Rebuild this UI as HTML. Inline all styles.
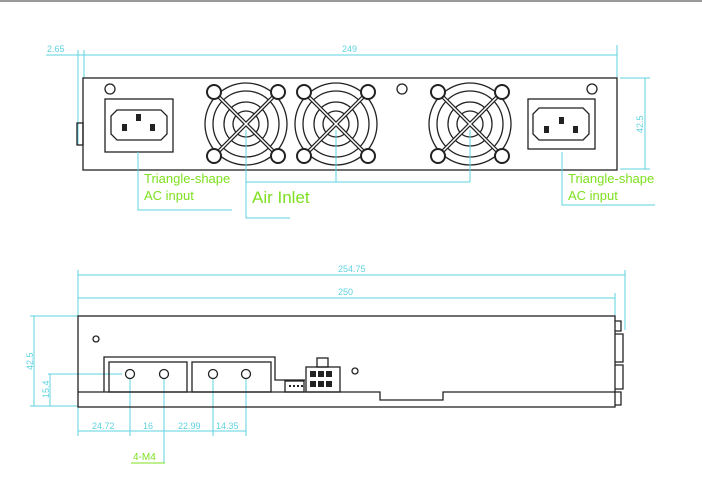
<!DOCTYPE html>
<html><head><style>
body{margin:0;background:#fff}
svg{display:block}
.c{stroke:#5fd3e0;stroke-width:1;fill:none}
.ct{fill:#5fd3e0;font:9px "Liberation Sans",sans-serif}
.k{stroke:#222;fill:none;stroke-width:1.3}
.g{stroke:#5fd3e0;fill:none;stroke-width:1}
.gt{fill:#7ee020;font-family:"Liberation Sans",sans-serif}
</style></head><body>
<svg width="702" height="483" viewBox="0 0 702 483">
<defs>
<g id="fan">
<circle class="k" cx="0" cy="0" r="41"/>
<circle class="k" cx="0" cy="0" r="33"/>
<circle class="k" cx="0" cy="0" r="22"/>
<circle class="k" cx="0" cy="0" r="13"/>
<path d="M-32 -32 L32 32 M32 -32 L-32 32" stroke="#222" stroke-width="4"/>
<path d="M-32 -32 L32 32 M32 -32 L-32 32" stroke="#fff" stroke-width="1.5"/>
<circle cx="-32" cy="-32" r="7" fill="#fff" stroke="#222" stroke-width="2"/><circle cx="32" cy="-32" r="7" fill="#fff" stroke="#222" stroke-width="2"/>
<circle cx="-32" cy="32" r="7" fill="#fff" stroke="#222" stroke-width="2"/><circle cx="32" cy="32" r="7" fill="#fff" stroke="#222" stroke-width="2"/>
</g>
</defs>
<line x1="0" y1="1" x2="702" y2="1" stroke="#999" stroke-width="2"/>
<!-- top dims -->
<line class="c" x1="46" y1="55" x2="617" y2="55"/>
<line class="c" x1="78" y1="50" x2="78" y2="145"/>
<line class="c" x1="84" y1="50" x2="84" y2="78"/>
<line class="c" x1="617" y1="45" x2="617" y2="78"/>
<text class="ct" x="47" y="52">2.65</text>
<text class="ct" x="342" y="52">249</text>
<line class="c" x1="620" y1="78" x2="650" y2="78"/>
<line class="c" x1="620" y1="169" x2="650" y2="169"/>
<line class="c" x1="645" y1="78" x2="645" y2="169"/>
<text class="ct" transform="translate(643,133) rotate(-90)">42.5</text>
<!-- top box -->
<rect class="k" x="83" y="78" width="534" height="92" stroke-width="2"/>
<rect class="k" x="77" y="123" width="6" height="22"/>
<rect class="k" x="105" y="99" width="68" height="53"/>
<path class="k" d="M117 110 h44 l6 6 v18 l-6 6 h-44 l-6 -6 v-18z"/>
<rect x="136" y="114" width="5" height="7" fill="#222"/><rect x="122" y="124" width="5" height="7" fill="#222"/><rect x="150" y="124" width="5" height="7" fill="#222"/>
<rect class="k" x="528" y="99" width="67" height="50"/>
<path class="k" d="M539 108 h44 l6 6 v20 l-6 6 h-44 l-6 -6 v-20z"/>
<rect x="559" y="117" width="5" height="7" fill="#222"/><rect x="544" y="126" width="5" height="7" fill="#222"/><rect x="573" y="126" width="5" height="7" fill="#222"/>
<circle class="k" cx="110" cy="89" r="5"/><circle class="k" cx="402" cy="89" r="5"/><circle class="k" cx="592" cy="89" r="5"/>
<use href="#fan" transform="translate(246,124)"/>
<use href="#fan" transform="translate(336,124)"/>
<use href="#fan" transform="translate(470,124)"/>
<!-- leaders -->
<path class="g" d="M138 152 V210 H232"/>
<path class="g" d="M246 130 V182 H470 M336 130 V182 M470 130 V182"/>
<path class="g" d="M246 182 V218 H290"/>
<path class="g" d="M562 152 V205 H655"/>
<text class="gt" x="144" y="183" font-size="13">Triangle-shape</text>
<text class="gt" x="144" y="200" font-size="13">AC input</text>
<text class="gt" x="252" y="203" font-size="17">Air Inlet</text>
<text class="gt" x="568" y="183" font-size="13">Triangle-shape</text>
<text class="gt" x="568" y="200" font-size="13">AC input</text>
<!-- bottom dims -->
<line class="c" x1="78" y1="275" x2="625" y2="275"/>
<line class="c" x1="78" y1="298" x2="615" y2="298"/>
<line class="c" x1="78" y1="270" x2="78" y2="316"/>
<line class="c" x1="625" y1="270" x2="625" y2="330"/>
<line class="c" x1="615" y1="293" x2="615" y2="316"/>
<text class="ct" x="338" y="272">254.75</text>
<text class="ct" x="338" y="295">250</text>
<line class="c" x1="30" y1="316" x2="78" y2="316"/>
<line class="c" x1="30" y1="406" x2="78" y2="406"/>
<line class="c" x1="34" y1="316" x2="34" y2="406"/>
<text class="ct" transform="translate(33,370) rotate(-90)">42.5</text>
<line class="c" x1="48" y1="374" x2="122" y2="374"/>
<line class="c" x1="50" y1="374" x2="50" y2="406"/>
<text class="ct" transform="translate(49,398) rotate(-90)">15.4</text>
<line class="c" x1="78" y1="406" x2="78" y2="436"/>
<line class="c" x1="130" y1="378" x2="130" y2="436"/>
<line class="c" x1="164" y1="378" x2="164" y2="463"/>
<line class="c" x1="213" y1="378" x2="213" y2="436"/>
<line class="c" x1="246" y1="378" x2="246" y2="436"/>
<line class="c" x1="78" y1="431" x2="246" y2="431"/>
<text class="ct" x="92" y="429">24.72</text>
<text class="ct" x="143" y="429">16</text>
<text class="ct" x="178" y="429">22.99</text>
<text class="ct" x="216" y="429">14.35</text>
<line stroke="#7ee020" x1="131" y1="463" x2="165" y2="463"/>
<text class="gt" x="133" y="460" font-size="10">4-M4</text>
<!-- bottom box -->
<rect class="k" x="78" y="316" width="537" height="91"/>
<path class="k" d="M78 392 H380 V400 H443 V392 H615"/>
<path class="k" d="M615 321 h6 v10 h-6 M615 334 h8 v28 h-8 M615 365 h8 v24 h-8 M615 392 h6 v13 h-6"/>
<circle class="k" cx="96" cy="339" r="3"/>
<circle class="k" cx="355" cy="371" r="3"/>
<path class="k" d="M104 392 V357 H275 V380 H305"/>
<rect class="k" x="109" y="362" width="78" height="30"/>
<rect class="k" x="192" y="362" width="79" height="30"/>
<circle class="k" cx="130" cy="374" r="4.5" stroke-width="2"/>
<circle class="k" cx="164" cy="374" r="4.5" stroke-width="2"/>
<circle class="k" cx="213" cy="374" r="4.5" stroke-width="2"/>
<circle class="k" cx="246" cy="374" r="4.5" stroke-width="2"/>
<rect class="k" x="317" y="358" width="11" height="9"/>
<rect class="k" x="306" y="367" width="34" height="25"/>
<g fill="#222"><rect x="310" y="371" width="6" height="6"/><rect x="318" y="371" width="6" height="6"/><rect x="326" y="371" width="6" height="6"/><rect x="310" y="381" width="6" height="6"/><rect x="318" y="381" width="6" height="6"/><rect x="326" y="381" width="6" height="6"/></g>
<rect class="k" x="285" y="381" width="19" height="11"/>
<g fill="#222"><rect x="289" y="385" width="2" height="2"/><rect x="293" y="385" width="2" height="2"/><rect x="297" y="385" width="2" height="2"/><rect x="301" y="385" width="2" height="2"/></g>
</svg>
</body></html>
